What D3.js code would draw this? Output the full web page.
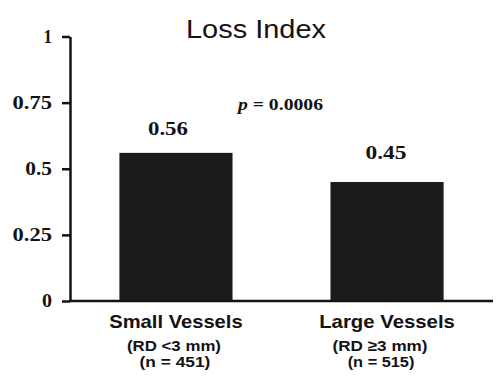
<!DOCTYPE html>
<html>
<head>
<meta charset="utf-8">
<script src="https://cdn.jsdelivr.net/npm/d3@7"></script>
<style>
  html, body { margin: 0; padding: 0; background: #fff; }
  svg { display: block; }
</style>
</head>
<body>
<svg id="chart" width="500" height="383"></svg>
<script>
// ---- data ----
const categories = ["Small Vessels", "Large Vessels"];
const subLabels1 = ["(RD <3 mm)", "(RD \u22653 mm)"];
const subLabels2 = ["(n = 451)", "(n = 515)"];
const values = [0.56, 0.45];
const valueLabels = ["0.56", "0.45"];
const tickValues = [0, 0.25, 0.5, 0.75, 1];
const tickLabels = ["0", "0.25", "0.5", "0.75", "1"];
const title = "Loss Index";
const pValueNum = "0.0006";

// ---- layout ----
const svg = d3.select("#chart");
const ink = "#141212";
const serif = "'Liberation Serif', 'Times New Roman', serif";
const sans = "'Liberation Sans', Arial, Helvetica, sans-serif";

const x = d3.scaleBand().domain(categories).range([70, 493])
  .paddingInner(0.464).paddingOuter(0.234);
const y = d3.scaleLinear().domain([0, 1]).range([301, 36.5]);

function fit(sel, w) {
  sel.attr("textLength", w).attr("lengthAdjust", "spacingAndGlyphs");
}

// bars
svg.append("g").selectAll("rect").data(values).join("rect")
  .attr("x", (d, i) => x(categories[i]))
  .attr("width", x.bandwidth())
  .attr("y", d => y(d))
  .attr("height", d => y(0) - y(d))
  .attr("fill", "#1d1a1b");

// y axis
const tickW = {"0": 10, "0.25": 39.4, "0.5": 26.7, "0.75": 39.4, "1": 8.5};
const yAxis = d3.axisLeft(y)
  .tickValues(tickValues)
  .tickFormat((d, i) => tickLabels[i])
  .tickSize(8)
  .tickSizeOuter(0)
  .tickPadding(10);
const gy = svg.append("g").attr("transform", "translate(70,0)").call(yAxis);
gy.select(".domain").attr("stroke", ink).attr("stroke-width", 2.5);
gy.selectAll(".tick line").attr("stroke", ink).attr("stroke-width", 2.5);
gy.selectAll(".tick text")
  .attr("fill", ink)
  .attr("dy", "0.3em")
  .style("font-family", serif)
  .style("font-weight", "bold")
  .style("font-size", "18.5px")
  .each(function () { d3.select(this).call(fit, tickW[this.textContent]); });

// baseline
svg.append("line")
  .attr("x1", 70).attr("x2", 493)
  .attr("y1", y(0)).attr("y2", y(0))
  .attr("stroke", ink).attr("stroke-width", 2.5);

// value labels
const valDx = [-8, -1];
const valDy = [-18, -23];
svg.append("g").selectAll("text").data(valueLabels).join("text")
  .attr("x", (d, i) => x(categories[i]) + x.bandwidth() / 2 + valDx[i])
  .attr("y", (d, i) => y(values[i]) + valDy[i])
  .attr("text-anchor", "middle")
  .attr("fill", ink)
  .style("font-family", serif)
  .style("font-weight", "bold")
  .style("font-size", "18.5px")
  .text(d => d)
  .each(function (d, i) { d3.select(this).call(fit, [40, 41][i]); });

// title
svg.append("text")
  .attr("x", 256).attr("y", 38)
  .attr("text-anchor", "middle")
  .attr("fill", ink)
  .style("font-family", sans)
  .style("font-size", "26.5px")
  .text(title)
  .call(fit, 140);

// p value
const pt = svg.append("text")
  .attr("x", 280.5).attr("y", 110)
  .attr("text-anchor", "middle")
  .attr("fill", ink)
  .style("font-family", serif)
  .style("font-weight", "bold")
  .style("font-size", "16px");
pt.append("tspan").style("font-style", "italic").text("p");
pt.append("tspan").text(" = " + pValueNum);
pt.call(fit, 85);

// category labels
const catDx = [[0, -2, -1], [0, -7, -6]];
const gc = svg.append("g");
gc.selectAll("text.cat").data(categories).join("text")
  .attr("class", "cat")
  .attr("x", (d, i) => x(d) + x.bandwidth() / 2 + catDx[i][0])
  .attr("y", 328.3)
  .attr("text-anchor", "middle")
  .attr("fill", ink)
  .style("font-family", sans)
  .style("font-weight", "bold")
  .style("font-size", "18.6px")
  .text(d => d)
  .each(function (d, i) { d3.select(this).call(fit, [133.4, 135.7][i]); });

gc.selectAll("text.sub1").data(subLabels1).join("text")
  .attr("class", "sub1")
  .attr("x", (d, i) => x(categories[i]) + x.bandwidth() / 2 + catDx[i][1])
  .attr("y", 350.5)
  .attr("text-anchor", "middle")
  .attr("fill", ink)
  .style("font-family", sans)
  .style("font-weight", "bold")
  .style("font-size", "15.5px")
  .text(d => d)
  .each(function (d, i) { d3.select(this).call(fit, [94, 95][i]); });

gc.selectAll("text.sub2").data(subLabels2).join("text")
  .attr("class", "sub2")
  .attr("x", (d, i) => x(categories[i]) + x.bandwidth() / 2 + catDx[i][2])
  .attr("y", 367)
  .attr("text-anchor", "middle")
  .attr("fill", ink)
  .style("font-family", sans)
  .style("font-weight", "bold")
  .style("font-size", "15.5px")
  .text(d => d)
  .each(function (d, i) { d3.select(this).call(fit, [70.7, 66.7][i]); });
</script>
</body>
</html>
